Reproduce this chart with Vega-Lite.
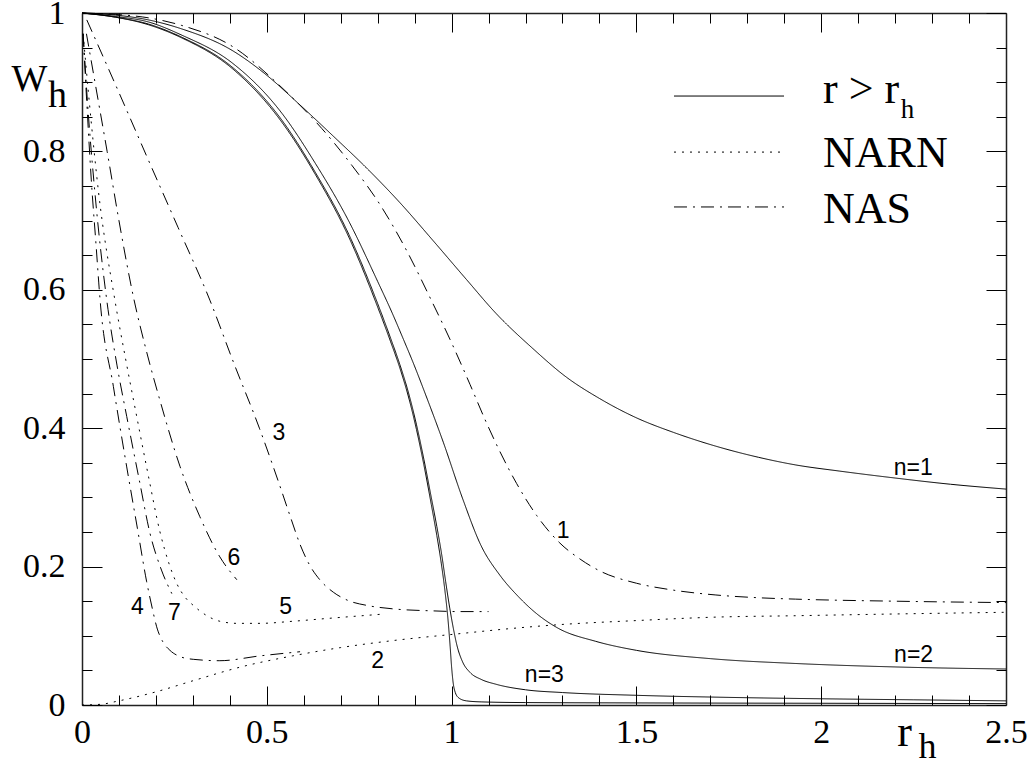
{
  "$schema": "https://vega.github.io/schema/vega-lite/v6.json",
  "width": 924,
  "height": 692,
  "autosize": "none",
  "padding": {"left": 82, "top": 13, "right": 27, "bottom": 63},
  "background": "white",
  "config": {"view": {"stroke": null}, "axis": {"grid": false}},
  "datasets": {
    "curves": [
      {"curve":"n1","style":"r>r_h","x":0,"y":1},{"curve":"n1","style":"r>r_h","x":0.09,"y":0.997},{"curve":"n1","style":"r>r_h","x":0.18,"y":0.99},{"curve":"n1","style":"r>r_h","x":0.27,"y":0.977},{"curve":"n1","style":"r>r_h","x":0.406,"y":0.946},{"curve":"n1","style":"r>r_h","x":0.5,"y":0.91},{"curve":"n1","style":"r>r_h","x":0.59,"y":0.867},{"curve":"n1","style":"r>r_h","x":0.68,"y":0.822},{"curve":"n1","style":"r>r_h","x":0.77,"y":0.776},{"curve":"n1","style":"r>r_h","x":0.86,"y":0.726},{"curve":"n1","style":"r>r_h","x":0.95,"y":0.671},{"curve":"n1","style":"r>r_h","x":1.04,"y":0.615},{"curve":"n1","style":"r>r_h","x":1.12,"y":0.566},{"curve":"n1","style":"r>r_h","x":1.22,"y":0.515},{"curve":"n1","style":"r>r_h","x":1.31,"y":0.474},{"curve":"n1","style":"r>r_h","x":1.4,"y":0.443},{"curve":"n1","style":"r>r_h","x":1.5,"y":0.415},{"curve":"n1","style":"r>r_h","x":1.6,"y":0.394},{"curve":"n1","style":"r>r_h","x":1.715,"y":0.374},{"curve":"n1","style":"r>r_h","x":1.83,"y":0.358},{"curve":"n1","style":"r>r_h","x":1.93,"y":0.347},{"curve":"n1","style":"r>r_h","x":2.05,"y":0.338},{"curve":"n1","style":"r>r_h","x":2.2,"y":0.328},{"curve":"n1","style":"r>r_h","x":2.35,"y":0.319},{"curve":"n1","style":"r>r_h","x":2.5,"y":0.312},

      {"curve":"n2","style":"r>r_h","x":0,"y":1},{"curve":"n2","style":"r>r_h","x":0.09,"y":0.995},{"curve":"n2","style":"r>r_h","x":0.18,"y":0.987},{"curve":"n2","style":"r>r_h","x":0.27,"y":0.968},{"curve":"n2","style":"r>r_h","x":0.406,"y":0.928},{"curve":"n2","style":"r>r_h","x":0.541,"y":0.855},{"curve":"n2","style":"r>r_h","x":0.631,"y":0.783},{"curve":"n2","style":"r>r_h","x":0.722,"y":0.699},{"curve":"n2","style":"r>r_h","x":0.8,"y":0.612},{"curve":"n2","style":"r>r_h","x":0.838,"y":0.568},{"curve":"n2","style":"r>r_h","x":0.87,"y":0.528},{"curve":"n2","style":"r>r_h","x":0.895,"y":0.496},{"curve":"n2","style":"r>r_h","x":0.93,"y":0.448},{"curve":"n2","style":"r>r_h","x":0.978,"y":0.379},{"curve":"n2","style":"r>r_h","x":1.03,"y":0.298},{"curve":"n2","style":"r>r_h","x":1.08,"y":0.23},{"curve":"n2","style":"r>r_h","x":1.13,"y":0.188},{"curve":"n2","style":"r>r_h","x":1.18,"y":0.157},{"curve":"n2","style":"r>r_h","x":1.23,"y":0.132},{"curve":"n2","style":"r>r_h","x":1.288,"y":0.111},{"curve":"n2","style":"r>r_h","x":1.39,"y":0.092},{"curve":"n2","style":"r>r_h","x":1.5,"y":0.079},{"curve":"n2","style":"r>r_h","x":1.7,"y":0.067},{"curve":"n2","style":"r>r_h","x":1.93,"y":0.06},{"curve":"n2","style":"r>r_h","x":2.2,"y":0.055},{"curve":"n2","style":"r>r_h","x":2.5,"y":0.052},

      {"curve":"n3","style":"r>r_h","x":0,"y":1},{"curve":"n3","style":"r>r_h","x":0.09,"y":0.994},{"curve":"n3","style":"r>r_h","x":0.18,"y":0.984},{"curve":"n3","style":"r>r_h","x":0.27,"y":0.965},{"curve":"n3","style":"r>r_h","x":0.406,"y":0.922},{"curve":"n3","style":"r>r_h","x":0.541,"y":0.845},{"curve":"n3","style":"r>r_h","x":0.631,"y":0.77},{"curve":"n3","style":"r>r_h","x":0.722,"y":0.68},{"curve":"n3","style":"r>r_h","x":0.8,"y":0.58},{"curve":"n3","style":"r>r_h","x":0.835,"y":0.53},{"curve":"n3","style":"r>r_h","x":0.86,"y":0.492},{"curve":"n3","style":"r>r_h","x":0.885,"y":0.448},{"curve":"n3","style":"r>r_h","x":0.905,"y":0.405},{"curve":"n3","style":"r>r_h","x":0.925,"y":0.355},{"curve":"n3","style":"r>r_h","x":0.945,"y":0.3},{"curve":"n3","style":"r>r_h","x":0.96,"y":0.258},{"curve":"n3","style":"r>r_h","x":0.973,"y":0.218},{"curve":"n3","style":"r>r_h","x":0.984,"y":0.178},{"curve":"n3","style":"r>r_h","x":0.995,"y":0.14},{"curve":"n3","style":"r>r_h","x":1.005,"y":0.11},{"curve":"n3","style":"r>r_h","x":1.015,"y":0.085},{"curve":"n3","style":"r>r_h","x":1.03,"y":0.062},{"curve":"n3","style":"r>r_h","x":1.05,"y":0.047},{"curve":"n3","style":"r>r_h","x":1.08,"y":0.037},{"curve":"n3","style":"r>r_h","x":1.12,"y":0.03},{"curve":"n3","style":"r>r_h","x":1.2,"y":0.022},{"curve":"n3","style":"r>r_h","x":1.3,"y":0.018},{"curve":"n3","style":"r>r_h","x":1.5,"y":0.014},{"curve":"n3","style":"r>r_h","x":1.75,"y":0.011},{"curve":"n3","style":"r>r_h","x":2.0,"y":0.009},{"curve":"n3","style":"r>r_h","x":2.25,"y":0.0075},{"curve":"n3","style":"r>r_h","x":2.5,"y":0.006},

      {"curve":"n4","style":"r>r_h","x":0,"y":1},{"curve":"n4","style":"r>r_h","x":0.09,"y":0.994},{"curve":"n4","style":"r>r_h","x":0.18,"y":0.983},{"curve":"n4","style":"r>r_h","x":0.27,"y":0.964},{"curve":"n4","style":"r>r_h","x":0.406,"y":0.92},{"curve":"n4","style":"r>r_h","x":0.541,"y":0.842},{"curve":"n4","style":"r>r_h","x":0.631,"y":0.767},{"curve":"n4","style":"r>r_h","x":0.722,"y":0.676},{"curve":"n4","style":"r>r_h","x":0.8,"y":0.575},{"curve":"n4","style":"r>r_h","x":0.835,"y":0.525},{"curve":"n4","style":"r>r_h","x":0.86,"y":0.487},{"curve":"n4","style":"r>r_h","x":0.885,"y":0.442},{"curve":"n4","style":"r>r_h","x":0.905,"y":0.398},{"curve":"n4","style":"r>r_h","x":0.925,"y":0.347},{"curve":"n4","style":"r>r_h","x":0.945,"y":0.29},{"curve":"n4","style":"r>r_h","x":0.96,"y":0.245},{"curve":"n4","style":"r>r_h","x":0.972,"y":0.205},{"curve":"n4","style":"r>r_h","x":0.982,"y":0.165},{"curve":"n4","style":"r>r_h","x":0.99,"y":0.125},{"curve":"n4","style":"r>r_h","x":0.996,"y":0.085},{"curve":"n4","style":"r>r_h","x":1.0,"y":0.055},{"curve":"n4","style":"r>r_h","x":1.004,"y":0.033},{"curve":"n4","style":"r>r_h","x":1.01,"y":0.018},{"curve":"n4","style":"r>r_h","x":1.02,"y":0.01},{"curve":"n4","style":"r>r_h","x":1.04,"y":0.006},{"curve":"n4","style":"r>r_h","x":1.08,"y":0.0045},{"curve":"n4","style":"r>r_h","x":1.2,"y":0.0035},{"curve":"n4","style":"r>r_h","x":1.5,"y":0.003},{"curve":"n4","style":"r>r_h","x":2.0,"y":0.0025},{"curve":"n4","style":"r>r_h","x":2.5,"y":0.002},

      {"curve":"c1","style":"NAS","x":0,"y":1},{"curve":"c1","style":"NAS","x":0.09,"y":0.998},{"curve":"c1","style":"NAS","x":0.18,"y":0.993},{"curve":"c1","style":"NAS","x":0.27,"y":0.982},{"curve":"c1","style":"NAS","x":0.406,"y":0.952},{"curve":"c1","style":"NAS","x":0.541,"y":0.892},{"curve":"c1","style":"NAS","x":0.649,"y":0.833},{"curve":"c1","style":"NAS","x":0.73,"y":0.78},{"curve":"c1","style":"NAS","x":0.81,"y":0.72},{"curve":"c1","style":"NAS","x":0.878,"y":0.657},{"curve":"c1","style":"NAS","x":0.945,"y":0.585},{"curve":"c1","style":"NAS","x":0.996,"y":0.528},{"curve":"c1","style":"NAS","x":1.05,"y":0.463},{"curve":"c1","style":"NAS","x":1.09,"y":0.413},{"curve":"c1","style":"NAS","x":1.13,"y":0.367},{"curve":"c1","style":"NAS","x":1.176,"y":0.32},{"curve":"c1","style":"NAS","x":1.23,"y":0.274},{"curve":"c1","style":"NAS","x":1.293,"y":0.234},{"curve":"c1","style":"NAS","x":1.35,"y":0.21},{"curve":"c1","style":"NAS","x":1.4,"y":0.194},{"curve":"c1","style":"NAS","x":1.5,"y":0.176},{"curve":"c1","style":"NAS","x":1.6,"y":0.166},{"curve":"c1","style":"NAS","x":1.715,"y":0.159},{"curve":"c1","style":"NAS","x":1.83,"y":0.155},{"curve":"c1","style":"NAS","x":1.93,"y":0.153},{"curve":"c1","style":"NAS","x":2.2,"y":0.15},{"curve":"c1","style":"NAS","x":2.5,"y":0.148},

      {"curve":"c2","style":"NARN","x":0,"y":0},{"curve":"c2","style":"NARN","x":0.05,"y":0.001},{"curve":"c2","style":"NARN","x":0.1,"y":0.006},{"curve":"c2","style":"NARN","x":0.2,"y":0.019},{"curve":"c2","style":"NARN","x":0.3,"y":0.035},{"curve":"c2","style":"NARN","x":0.43,"y":0.055},{"curve":"c2","style":"NARN","x":0.57,"y":0.071},{"curve":"c2","style":"NARN","x":0.7,"y":0.083},{"curve":"c2","style":"NARN","x":0.84,"y":0.093},{"curve":"c2","style":"NARN","x":1.02,"y":0.103},{"curve":"c2","style":"NARN","x":1.15,"y":0.11},{"curve":"c2","style":"NARN","x":1.288,"y":0.116},{"curve":"c2","style":"NARN","x":1.5,"y":0.122},{"curve":"c2","style":"NARN","x":1.715,"y":0.127},{"curve":"c2","style":"NARN","x":1.93,"y":0.129},{"curve":"c2","style":"NARN","x":2.14,"y":0.131},{"curve":"c2","style":"NARN","x":2.5,"y":0.134},

      {"curve":"c3","style":"NAS","x":0.013,"y":0.99},{"curve":"c3","style":"NAS","x":0.1,"y":0.885},{"curve":"c3","style":"NAS","x":0.18,"y":0.787},{"curve":"c3","style":"NAS","x":0.26,"y":0.69},{"curve":"c3","style":"NAS","x":0.346,"y":0.585},{"curve":"c3","style":"NAS","x":0.41,"y":0.495},{"curve":"c3","style":"NAS","x":0.48,"y":0.4},{"curve":"c3","style":"NAS","x":0.53,"y":0.325},{"curve":"c3","style":"NAS","x":0.565,"y":0.27},{"curve":"c3","style":"NAS","x":0.59,"y":0.232},{"curve":"c3","style":"NAS","x":0.615,"y":0.203},{"curve":"c3","style":"NAS","x":0.645,"y":0.18},{"curve":"c3","style":"NAS","x":0.68,"y":0.163},{"curve":"c3","style":"NAS","x":0.72,"y":0.151},{"curve":"c3","style":"NAS","x":0.77,"y":0.144},{"curve":"c3","style":"NAS","x":0.84,"y":0.139},{"curve":"c3","style":"NAS","x":0.95,"y":0.136},{"curve":"c3","style":"NAS","x":1.02,"y":0.135},{"curve":"c3","style":"NAS","x":1.1,"y":0.135},

      {"curve":"c4","style":"NAS","x":0.003,"y":0.97},{"curve":"c4","style":"NAS","x":0.012,"y":0.88},{"curve":"c4","style":"NAS","x":0.025,"y":0.76},{"curve":"c4","style":"NAS","x":0.038,"y":0.665},{"curve":"c4","style":"NAS","x":0.049,"y":0.585},{"curve":"c4","style":"NAS","x":0.085,"y":0.46},{"curve":"c4","style":"NAS","x":0.121,"y":0.344},{"curve":"c4","style":"NAS","x":0.15,"y":0.255},{"curve":"c4","style":"NAS","x":0.175,"y":0.178},{"curve":"c4","style":"NAS","x":0.19,"y":0.14},{"curve":"c4","style":"NAS","x":0.202,"y":0.113},{"curve":"c4","style":"NAS","x":0.218,"y":0.092},{"curve":"c4","style":"NAS","x":0.238,"y":0.079},{"curve":"c4","style":"NAS","x":0.265,"y":0.07},{"curve":"c4","style":"NAS","x":0.301,"y":0.066},{"curve":"c4","style":"NAS","x":0.373,"y":0.064},{"curve":"c4","style":"NAS","x":0.482,"y":0.071},{"curve":"c4","style":"NAS","x":0.59,"y":0.077},

      {"curve":"c5","style":"NARN","x":0.003,"y":0.97},{"curve":"c5","style":"NARN","x":0.02,"y":0.87},{"curve":"c5","style":"NARN","x":0.045,"y":0.74},{"curve":"c5","style":"NARN","x":0.089,"y":0.585},{"curve":"c5","style":"NARN","x":0.118,"y":0.5},{"curve":"c5","style":"NARN","x":0.148,"y":0.417},{"curve":"c5","style":"NARN","x":0.18,"y":0.33},{"curve":"c5","style":"NARN","x":0.211,"y":0.25},{"curve":"c5","style":"NARN","x":0.235,"y":0.205},{"curve":"c5","style":"NARN","x":0.256,"y":0.176},{"curve":"c5","style":"NARN","x":0.28,"y":0.155},{"curve":"c5","style":"NARN","x":0.301,"y":0.144},{"curve":"c5","style":"NARN","x":0.335,"y":0.13},{"curve":"c5","style":"NARN","x":0.373,"y":0.121},{"curve":"c5","style":"NARN","x":0.42,"y":0.118},{"curve":"c5","style":"NARN","x":0.482,"y":0.118},{"curve":"c5","style":"NARN","x":0.57,"y":0.121},{"curve":"c5","style":"NARN","x":0.662,"y":0.125},{"curve":"c5","style":"NARN","x":0.806,"y":0.131},

      {"curve":"c6","style":"NAS","x":0.012,"y":0.97},{"curve":"c6","style":"NAS","x":0.045,"y":0.87},{"curve":"c6","style":"NAS","x":0.068,"y":0.8},{"curve":"c6","style":"NAS","x":0.1,"y":0.7},{"curve":"c6","style":"NAS","x":0.139,"y":0.59},{"curve":"c6","style":"NAS","x":0.175,"y":0.51},{"curve":"c6","style":"NAS","x":0.211,"y":0.44},{"curve":"c6","style":"NAS","x":0.265,"y":0.345},{"curve":"c6","style":"NAS","x":0.319,"y":0.272},{"curve":"c6","style":"NAS","x":0.373,"y":0.214},{"curve":"c6","style":"NAS","x":0.419,"y":0.181},

      {"curve":"c7","style":"NAS","x":0.003,"y":0.97},{"curve":"c7","style":"NAS","x":0.015,"y":0.87},{"curve":"c7","style":"NAS","x":0.035,"y":0.74},{"curve":"c7","style":"NAS","x":0.067,"y":0.585},{"curve":"c7","style":"NAS","x":0.095,"y":0.49},{"curve":"c7","style":"NAS","x":0.121,"y":0.417},{"curve":"c7","style":"NAS","x":0.155,"y":0.325},{"curve":"c7","style":"NAS","x":0.184,"y":0.248},{"curve":"c7","style":"NAS","x":0.215,"y":0.195},{"curve":"c7","style":"NAS","x":0.243,"y":0.161}
    ],
    "curveLabels": [
      {"t":"1","x":1.302,"y":0.252},
      {"t":"2","x":0.8,"y":0.063},
      {"t":"3","x":0.533,"y":0.393},
      {"t":"4","x":0.15,"y":0.142},
      {"t":"5","x":0.551,"y":0.142},
      {"t":"6","x":0.411,"y":0.212},
      {"t":"7","x":0.25,"y":0.133},
      {"t":"n=1","x":2.249,"y":0.342},
      {"t":"n=2","x":2.25,"y":0.072},
      {"t":"n=3","x":1.251,"y":0.043}
    ],
    "legendLines": [
      {"style":"r>r_h","x1":1.6017,"x2":1.8994,"y":0.88},
      {"style":"NARN","x1":1.6017,"x2":1.8994,"y":0.799},
      {"style":"NAS","x1":1.6017,"x2":1.8994,"y":0.7197}
    ],
    "legendText": [
      {"t":"r > r","x":2.005,"y":0.8695},
      {"t":"NARN","x":2.005,"y":0.7775},
      {"t":"NAS","x":2.005,"y":0.6965}
    ],
    "legendSub": [
      {"t":"h","x":2.215,"y":0.848}
    ]
  },
  "layer": [
    {
      "data": {"name": "curves"},
      "mark": {"type": "line", "interpolate": "monotone", "strokeWidth": 1, "color": "#000"},
      "encoding": {
        "x": {"field": "x", "type": "quantitative",
          "scale": {"domain": [0, 2.5], "nice": false, "zero": false},
          "axis": {"orient": "bottom", "values": [0, 0.5, 1, 1.5, 2, 2.5], "format": "~g",
            "ticks": true, "tickSize": -19, "tickColor": "#000", "tickWidth": 1,
            "labels": true, "labelFont": "Liberation Serif", "labelFontSize": 34, "labelColor": "#000",
            "labelBaseline": "alphabetic", "labelPadding": 56, "labelFlush": false, "labelOverlap": false, "labelBound": false,
            "domain": true, "domainColor": "#222", "domainWidth": 1.5, "grid": false,
            "title": "r", "titleFont": "Liberation Serif", "titleFontSize": 44, "titleFontWeight": "normal", "titleColor": "#000",
            "titleX": 822, "titleY": 40, "titleAlign": "center", "titleBaseline": "alphabetic"}},
        "y": {"field": "y", "type": "quantitative",
          "scale": {"domain": [0, 1], "nice": false, "zero": false},
          "axis": {"orient": "left", "values": [0, 0.2, 0.4, 0.6, 0.8, 1], "format": "~g",
            "ticks": true, "tickSize": -20, "tickColor": "#000", "tickWidth": 1,
            "labels": true, "labelFont": "Liberation Serif", "labelFontSize": 34, "labelColor": "#000",
            "labelBaseline": "middle", "labelAlign": "right", "labelPadding": 37, "labelFlush": false, "labelOverlap": false, "labelBound": false,
            "domain": true, "domainColor": "#222", "domainWidth": 1.5, "grid": false,
            "title": "W", "titleFont": "Liberation Serif", "titleFontSize": 38, "titleFontWeight": "normal", "titleColor": "#000",
            "titleAngle": 0, "titleX": -53, "titleY": 77, "titleAlign": "center", "titleBaseline": "alphabetic"}},
        "detail": {"field": "curve", "type": "nominal"},
        "strokeDash": {"field": "style", "type": "nominal",
          "scale": {"domain": ["r>r_h", "NARN", "NAS"], "range": [[1, 0], [2, 6], [13, 6, 2, 6]]},
          "legend": null}
      }
    },
    {
      "data": {"name": "legendLines"},
      "mark": {"type": "rule", "strokeWidth": 1, "color": "#000"},
      "encoding": {
        "x": {"field": "x1", "type": "quantitative",
          "axis": {"orient": "bottom", "values": [0.1,0.2,0.3,0.4,0.6,0.7,0.8,0.9,1.1,1.2,1.3,1.4,1.6,1.7,1.8,1.9,2.1,2.2,2.3,2.4],
            "ticks": true, "tickSize": -10, "tickColor": "#000", "tickWidth": 1, "labels": false, "domain": false, "grid": false,
            "title": "h", "titleFont": "Liberation Serif", "titleFontSize": 36, "titleFontWeight": "normal", "titleColor": "#000",
            "titleX": 845, "titleY": 52, "titleAlign": "center", "titleBaseline": "alphabetic"}},
        "x2": {"field": "x2"},
        "y": {"field": "y", "type": "quantitative",
          "axis": {"orient": "left", "values": [0.05,0.1,0.15,0.25,0.3,0.35,0.45,0.5,0.55,0.65,0.7,0.75,0.85,0.9,0.95],
            "ticks": true, "tickSize": -10, "tickColor": "#000", "tickWidth": 1, "labels": false, "domain": false, "grid": false,
            "title": "h", "titleFont": "Liberation Serif", "titleFontSize": 38, "titleFontWeight": "normal", "titleColor": "#000",
            "titleAngle": 0, "titleX": -25, "titleY": 93, "titleAlign": "center", "titleBaseline": "alphabetic"}},
        "strokeDash": {"field": "style", "type": "nominal", "legend": null}
      }
    },
    {
      "data": {"name": "legendText"},
      "mark": {"type": "text", "font": "Liberation Serif", "fontSize": 44, "align": "left", "baseline": "alphabetic", "color": "#000"},
      "encoding": {
        "x": {"field": "x", "type": "quantitative",
          "axis": {"orient": "top", "values": [0, 0.5, 1, 1.5, 2, 2.5], "ticks": true, "tickSize": -19, "tickColor": "#000", "tickWidth": 1,
            "labels": false, "domain": true, "domainColor": "#222", "domainWidth": 1.5, "grid": false, "title": null}},
        "y": {"field": "y", "type": "quantitative",
          "axis": {"orient": "right", "values": [0, 0.2, 0.4, 0.6, 0.8, 1], "ticks": true, "tickSize": -20, "tickColor": "#000", "tickWidth": 1,
            "labels": false, "domain": true, "domainColor": "#222", "domainWidth": 1.5, "grid": false, "title": null}},
        "text": {"field": "t", "type": "nominal"}
      }
    },
    {
      "data": {"name": "legendSub"},
      "mark": {"type": "text", "font": "Liberation Serif", "fontSize": 27, "align": "left", "baseline": "alphabetic", "color": "#000"},
      "encoding": {
        "x": {"field": "x", "type": "quantitative",
          "axis": {"orient": "top", "values": [0.1,0.2,0.3,0.4,0.6,0.7,0.8,0.9,1.1,1.2,1.3,1.4,1.6,1.7,1.8,1.9,2.1,2.2,2.3,2.4],
            "ticks": true, "tickSize": -10, "tickColor": "#000", "tickWidth": 1, "labels": false, "domain": false, "grid": false, "title": null}},
        "y": {"field": "y", "type": "quantitative",
          "axis": {"orient": "right", "values": [0.05,0.1,0.15,0.25,0.3,0.35,0.45,0.5,0.55,0.65,0.7,0.75,0.85,0.9,0.95],
            "ticks": true, "tickSize": -10, "tickColor": "#000", "tickWidth": 1, "labels": false, "domain": false, "grid": false, "title": null}},
        "text": {"field": "t", "type": "nominal"}
      }
    },
    {
      "data": {"name": "curveLabels"},
      "mark": {"type": "text", "font": "Liberation Sans", "fontSize": 23, "align": "center", "baseline": "middle", "color": "#000"},
      "encoding": {
        "x": {"field": "x", "type": "quantitative", "axis": null},
        "y": {"field": "y", "type": "quantitative", "axis": null},
        "text": {"field": "t", "type": "nominal"}
      }
    }
  ],
  "resolve": {"axis": {"x": "independent", "y": "independent"}}
}
